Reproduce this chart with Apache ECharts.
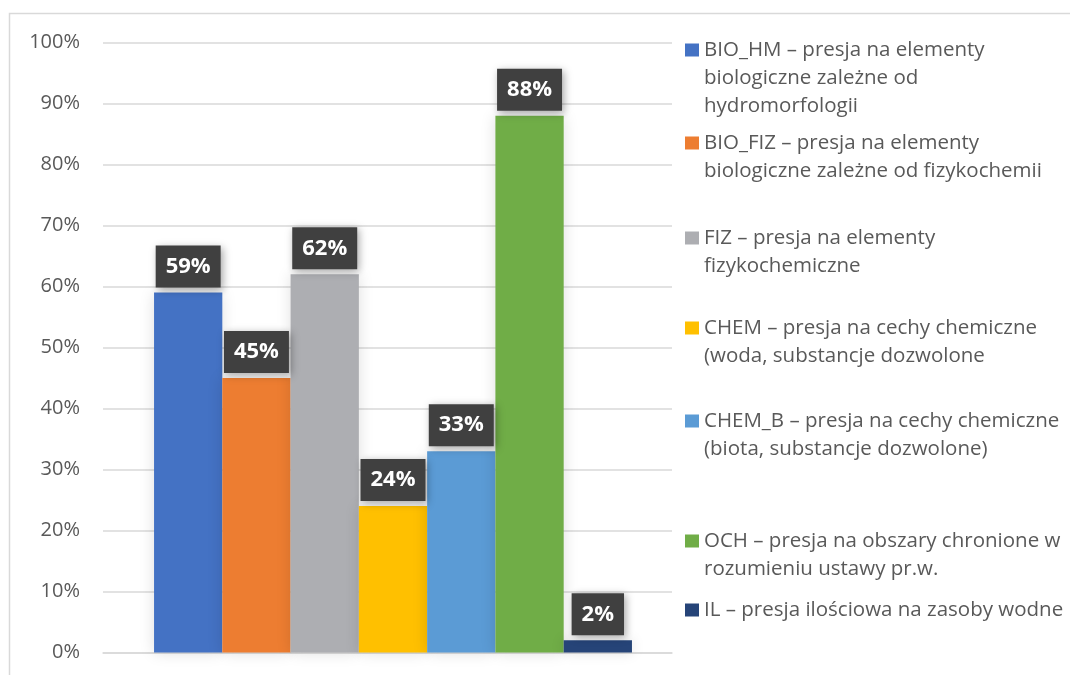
<!DOCTYPE html>
<html>
<head>
<meta charset="utf-8">
<script src="https://cdn.jsdelivr.net/npm/echarts@6/dist/echarts.min.js"></script>
<style>
  html, body { margin: 0; padding: 0; background: #fff; }
  #output { width: 1070px; height: 675px; }
</style>
</head>
<body>
<div id="output"></div>
<script>
const chart = echarts.init(document.getElementById('output'));

const categories = [''];
const seriesNames = [
  'BIO_HM – presja na elementy\nbiologiczne zależne od\nhydromorfologii',
  'BIO_FIZ – presja na elementy\nbiologiczne zależne od fizykochemii',
  'FIZ – presja na elementy\nfizykochemiczne',
  'CHEM – presja na cechy chemiczne\n(woda, substancje dozwolone',
  'CHEM_B – presja na cechy chemiczne\n(biota, substancje dozwolone)',
  'OCH – presja na obszary chronione w\nrozumieniu ustawy pr.w.',
  'IL – presja ilościowa na zasoby wodne'
];
const values = [59, 45, 62, 24, 33, 88, 2];
const colors = ['#4472C4', '#ED7D31', '#ADAEB2', '#FFC000', '#5B9BD5', '#70AD47', '#264478'];

const FONT = '"Open Sans", "Liberation Sans", sans-serif';
const LINE = 28;
// y of the first text line of every legend entry
const legendFirstLine = [50, 143, 238, 328, 421, 541, 610];

// icon is centred on the text block, so pad the block with empty lines on top
function legendFor (name, i) {
  const lines = name.split('\n').length;
  return {
    show: true,
    left: 685,
    top: legendFirstLine[i] - (2 * lines - 1) * LINE / 2,
    orient: 'vertical',
    padding: 0,
    itemWidth: 14,
    itemHeight: 13,
    icon: 'rect',
    selectedMode: false,
    data: [name],
    formatter: n => '\n'.repeat(lines - 1) + n,
    textStyle: {
      fontFamily: FONT,
      fontSize: 20.5,
      color: '#595959',
      lineHeight: LINE
    }
  };
}

function getOption () {
  return {
    animation: false,
    color: colors,
    graphic: [{
      type: 'rect',
      shape: { x: 9.5, y: 13.5, width: 1200, height: 800 },
      style: { fill: 'none', stroke: '#d9d9d9', lineWidth: 1.5 },
      silent: true
    }],
    legend: seriesNames.map(legendFor),
    grid: [
      // axis frame with gridlines
      { left: 103, right: 398, top: 42.5, bottom: 22.5 },
      // bars sit a bit right of the frame centre, as in the original
      { left: 103, right: 387, top: 42.5, bottom: 22.5 }
    ],
    xAxis: [{
      gridIndex: 0,
      type: 'category',
      data: categories,
      axisLine: { lineStyle: { color: '#d9d9d9', width: 1.5 } },
      axisTick: { show: false },
      axisLabel: { show: false }
    }, {
      gridIndex: 1,
      type: 'category',
      data: categories,
      show: false
    }],
    yAxis: [{
      gridIndex: 0,
      type: 'value',
      min: 0,
      max: 100,
      interval: 10,
      axisLine: { show: false },
      axisTick: { show: false },
      splitLine: { lineStyle: { color: '#d9d9d9', width: 1.5 } },
      axisLabel: {
        formatter: '{value}%',
        fontFamily: FONT,
        fontSize: 20,
        color: '#595959',
        margin: 23
      }
    }, {
      gridIndex: 1,
      type: 'value',
      min: 0,
      max: 100,
      interval: 10,
      show: false,
      splitLine: { show: false }
    }],
    series: seriesNames.map((name, i) => ({
      type: 'bar',
      name,
      xAxisIndex: 1,
      yAxisIndex: 1,
      data: [values[i]],
      barGap: '0%',
      barCategoryGap: '17.6%',
      itemStyle: {
        shadowBlur: 14,
        shadowColor: 'rgba(0,0,0,0.13)'
      },
      label: {
        show: true,
        position: 'top',
        distance: 5,
        formatter: '{c}%',
        fontFamily: FONT,
        fontSize: 22,
        fontWeight: 'bold',
        color: '#fff',
        backgroundColor: '#404040',
        padding: [10, 10, 10, 10],
        shadowBlur: 8,
        shadowColor: 'rgba(0,0,0,0.35)',
        shadowOffsetX: 2,
        shadowOffsetY: 2
      }
    }))
  };
}

chart.setOption(getOption());
</script>
</body>
</html>
